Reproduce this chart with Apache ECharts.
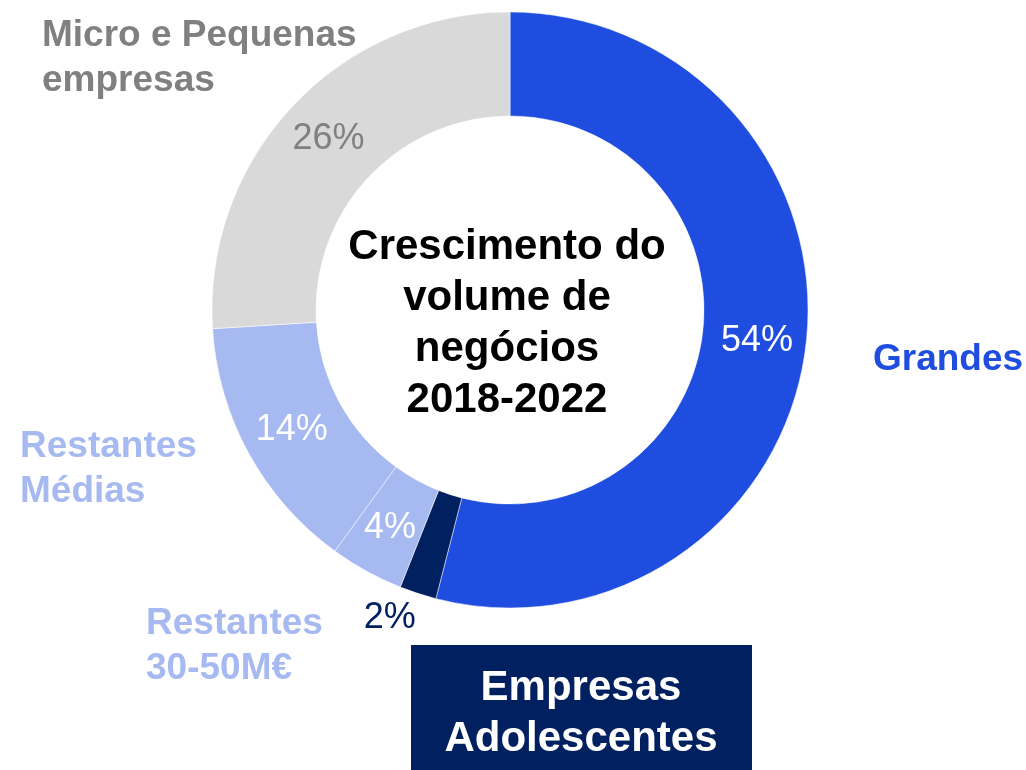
<!DOCTYPE html>
<html>
<head>
<meta charset="utf-8">
<script src="https://cdn.jsdelivr.net/npm/echarts@6/dist/echarts.min.js"></script>
<style>
  html, body { margin: 0; padding: 0; background: #fff; }
  #chart { width: 1026px; height: 770px; }
</style>
</head>
<body>
<div id="chart"></div>
<script>
// segment names, clockwise from the top
var categories = ['Grandes', 'Empresas Adolescentes', 'Restantes 30-50M€', 'Restantes Médias', 'Micro e Pequenas empresas'];
var shares = [54, 2, 4, 14, 26];
var centerTitle = ['Crescimento do', 'volume de', 'negócios', '2018-2022'];

var palette = ['#1f4ddf', '#002060', '#a6b9f1', '#a6b9f1', '#d9d9d9'];
var labelColors = ['#ffffff', '#002060', '#ffffff', '#ffffff', '#808080'];
var FONT = '"Liberation Sans", Arial, sans-serif';

var chart = echarts.init(document.getElementById('chart'));

var pieData = categories.map(function (name, i) {
    var item = {
        name: name,
        value: shares[i],
        itemStyle: { color: palette[i] },
        label: { color: labelColors[i] }
    };
    if (i === 1) {
        // small slice: label sits outside the ring
        item.label.position = 'outside';
        item.label.padding = [8, -11, 0, 0];
        item.labelLine = { show: false, length: 26, length2: 0 };
    }
    return item;
});

function boldText(text, x, y, color, size, lh, align) {
    return {
        type: 'text',
        style: {
            text: text,
            x: x,
            y: y,
            fill: color,
            font: 'bold ' + size + 'px ' + FONT,
            lineHeight: lh,
            align: align || 'left',
            verticalAlign: 'top'
        }
    };
}

var option = {
    animation: false,
    backgroundColor: '#ffffff',
    series: [
        {
            type: 'pie',
            center: [510, 310],
            radius: [194, 298],
            startAngle: 90,
            clockwise: true,
            avoidLabelOverlap: false,
            itemStyle: { borderColor: '#ffffff', borderWidth: 0.5 },
            label: {
                show: true,
                position: 'inside',
                formatter: '{c}%',
                fontFamily: FONT,
                fontSize: 36,
                fontWeight: 'normal',
                padding: [6, 0, 0, 0]
            },
            labelLine: { show: false },
            emphasis: { disabled: true },
            data: pieData
        }
    ],
    graphic: [
        boldText('Micro e Pequenas\nempresas', 42, 13, '#808080', 37, 45),
        boldText('Grandes', 873, 337, '#1f4ddf', 37, 45),
        boldText('Restantes\nMédias', 20, 424, '#a6b9f1', 37, 45),
        boldText('Restantes\n30-50M€', 146, 601, '#a6b9f1', 37, 45),
        {
            type: 'rect',
            shape: { x: 411, y: 645, width: 341, height: 125 },
            style: { fill: '#002060' }
        },
        boldText('Empresas\nAdolescentes', 581, 663, '#ffffff', 42, 51, 'center'),
        boldText(centerTitle.join('\n'), 507, 222, '#000000', 42, 51, 'center')
    ]
};

chart.setOption(option);
</script>
</body>
</html>
